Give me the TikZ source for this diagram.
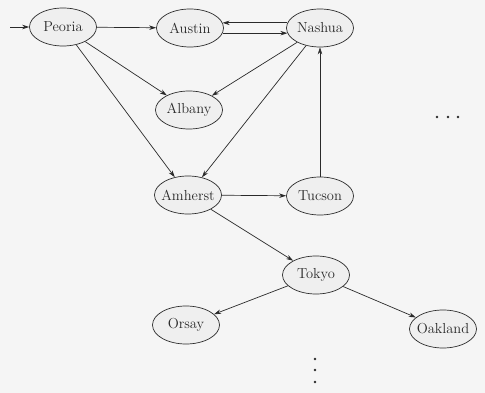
\documentclass[tikz,border=0pt]{standalone}
\usetikzlibrary{shapes.geometric,arrows.meta}
\definecolor{bg}{HTML}{F5F5F5}
\definecolor{nodefill}{HTML}{EFEFEF}
\definecolor{ink}{HTML}{2A2A2A}
\begin{document}
\begin{tikzpicture}[x=1pt,y=-1pt,
  city/.style={ellipse,draw=ink,fill=nodefill,line width=0.7pt,minimum width=67pt,minimum height=38pt,inner xsep=-3pt,inner ysep=0pt,font=\fontsize{14.5}{16}\selectfont,text=ink},
  edge/.style={draw=ink,line width=0.7pt,-{Stealth[length=7pt,width=4.5pt]}},
  dotmark/.style={fill=ink,draw=none}]
\fill[bg] (0,0) rectangle (485,393);
\useasboundingbox (0,0) rectangle (485,393);
\node[city] (peoria) at (63,27) {Peoria};
\node[city] (austin) at (190,28) {Austin};
\node[city] (nashua) at (320,28) {Nashua};
\node[city] (albany) at (189,110) {Albany};
\node[city] (amherst) at (188,195) {Amherst};
\node[city] (tucson) at (320,196) {Tucson};
\node[city] (tokyo) at (316,275) {Tokyo};
\node[city] (orsay) at (186,325) {Orsay};
\node[city] (oakland) at (443,329) {Oakland};
\coordinate (start) at (10,27);
\draw[edge] (start) -- (peoria);
\draw[edge] (peoria) -- (austin);
\draw[edge] (peoria) -- (albany);
\draw[edge] (peoria) -- (amherst);
\draw[edge] (nashua.171) -- (austin.9);
\draw[edge] (austin.-9) -- (nashua.189);
\draw[edge] (nashua) -- (albany);
\draw[edge] (nashua) -- (amherst);
\draw[edge] (amherst) -- (tucson);
\draw[edge] (tucson) -- (nashua);
\draw[edge] (amherst) -- (tokyo);
\draw[edge] (tokyo) -- (orsay);
\draw[edge] (tokyo) -- (oakland);
\foreach \x in {437,448,458} \fill[dotmark] (\x,117) circle (1.3pt);
\foreach \y in {359,370,382} \fill[dotmark] (315,\y) circle (1.3pt);
\end{tikzpicture}
\end{document}
